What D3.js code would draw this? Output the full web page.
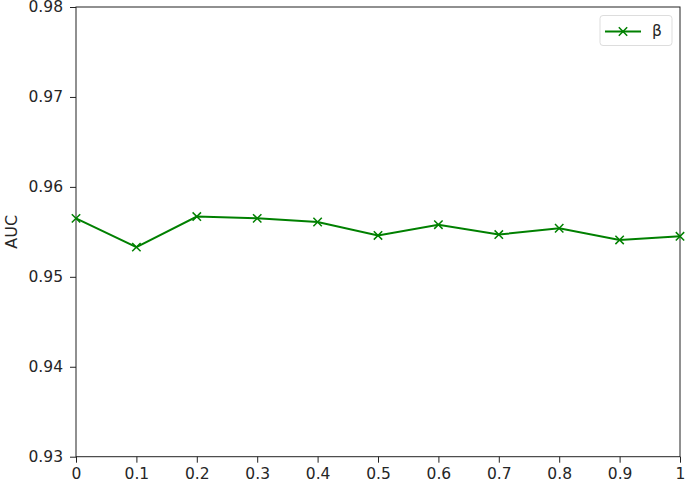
<!DOCTYPE html>
<html>
<head>
<meta charset="utf-8">
<script src="https://cdn.jsdelivr.net/npm/d3@7"></script>
<style>
  body { margin: 0; background: #fff; }
  svg text { font-family: "DejaVu Sans", sans-serif; fill: #262626; }
</style>
</head>
<body>
<div id="chart"></div>
<script>
const X_VALUES = [0, 0.1, 0.2, 0.3, 0.4, 0.5, 0.6, 0.7, 0.8, 0.9, 1];
const BETA_AUC = [0.9565, 0.9533, 0.9567, 0.9565, 0.9561, 0.9546, 0.9558, 0.9547, 0.9554, 0.9541, 0.9545];
const X_TICKS = [0, 0.1, 0.2, 0.3, 0.4, 0.5, 0.6, 0.7, 0.8, 0.9, 1];
const Y_TICKS = [0.93, 0.94, 0.95, 0.96, 0.97, 0.98];
const SERIES_NAME = 'β';
const Y_LABEL = 'AUC';

const W = 685, H = 483;
const m = { left: 76, right: 5, top: 7, bottom: 26.3 };
const color = '#008000';
const fs = '15.5px';

const svg = d3.select('#chart').append('svg')
  .attr('width', W).attr('height', H);

const x = d3.scaleLinear().domain([0, 1]).range([m.left, W - m.right]);
const y = d3.scaleLinear().domain([0.93, 0.98]).range([H - m.bottom, m.top]);

// frame
svg.append('rect')
  .attr('x', x(0)).attr('y', y(0.98))
  .attr('width', x(1) - x(0)).attr('height', y(0.93) - y(0.98))
  .attr('fill', 'none').attr('stroke', '#222').attr('stroke-width', 1);

const xAxis = svg.append('g')
  .attr('transform', `translate(0,${y(0.93)})`)
  .call(d3.axisBottom(x).tickValues(X_TICKS).tickSize(6).tickPadding(5)
    .tickFormat(d => d === 0 ? '0' : d === 1 ? '1' : d3.format('.1f')(d)));
const yAxis = svg.append('g')
  .attr('transform', `translate(${x(0)},0)`)
  .call(d3.axisLeft(y).tickValues(Y_TICKS).tickSize(6).tickPadding(7)
    .tickFormat(d3.format('.2f')));

[xAxis, yAxis].forEach(a => {
  a.select('.domain').remove();
  a.selectAll('line').attr('stroke', '#222');
  a.selectAll('text').attr('font-size', fs).attr('fill', '#262626')
    .attr('font-family', '"DejaVu Sans", sans-serif');
});

svg.append('text')
  .attr('transform', `translate(17,${(y(0.93) + y(0.98)) / 2}) rotate(-90)`)
  .attr('text-anchor', 'middle')
  .attr('font-size', '16px')
  .text(Y_LABEL);

const data = X_VALUES.map((v, i) => ({ x: v, y: BETA_AUC[i] }));

const plot = svg.append('g');
plot.append('path')
  .datum(data)
  .attr('fill', 'none')
  .attr('stroke', color)
  .attr('stroke-width', 2)
  .attr('d', d3.line().x(d => x(d.x)).y(d => y(d.y)));

const s = 4.2;
function cross(g, cx, cy) {
  g.append('path')
    .attr('d', `M${cx - s},${cy - s}L${cx + s},${cy + s}M${cx - s},${cy + s}L${cx + s},${cy - s}`)
    .attr('stroke', color).attr('stroke-width', 1.5).attr('fill', 'none');
}
data.forEach(d => cross(plot, x(d.x), y(d.y)));

// legend
const lg = svg.append('g');
lg.append('rect')
  .attr('x', 600).attr('y', 15.5).attr('width', 72).attr('height', 30).attr('rx', 3)
  .attr('fill', '#fff').attr('stroke', '#ddd').attr('stroke-width', 1);
lg.append('line')
  .attr('x1', 605).attr('x2', 641).attr('y1', 31.5).attr('y2', 31.5)
  .attr('stroke', color).attr('stroke-width', 2);
cross(lg, 623, 31.5);
lg.append('text')
  .attr('x', 652).attr('y', 36)
  .attr('font-size', fs)
  .text(SERIES_NAME);
</script>
</body>
</html>
